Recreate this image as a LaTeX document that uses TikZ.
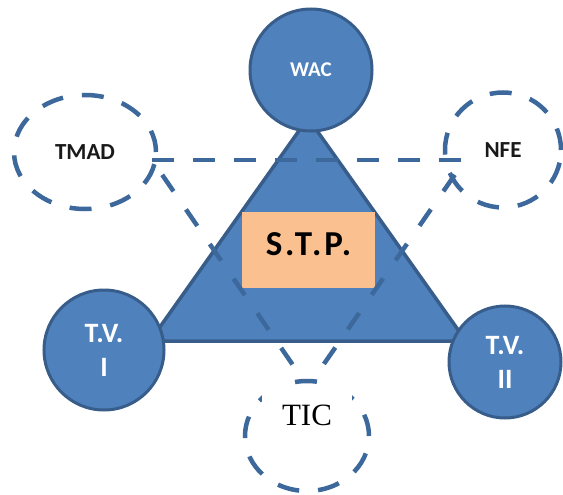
\documentclass[tikz,border=0pt]{standalone}
\usepackage{fontspec}
\usetikzlibrary{shapes.geometric,calc}
\setmainfont{Carlito}
\newfontfamily\timesf{Liberation Serif}
\newfontfamily\spacedf[LetterSpace=8]{Carlito}
\definecolor{bfill}{HTML}{4F81BD}
\definecolor{bline}{HTML}{385D8A}
\definecolor{dline}{RGB}{60,104,156}
\definecolor{ofill}{HTML}{FAC090}
\tikzset{
  bluecirc/.style={circle, fill=bfill, draw=bline, line width=3pt, inner sep=0pt, text=white, font=\bfseries\fontsize{28}{34}\selectfont, align=center},
  dashlook/.style={draw=dline, line width=4.5pt, dash pattern=on 22pt off 19pt},
  diaglook/.style={draw=dline, line width=4.5pt, dash pattern=on 20pt off 22pt, dash phase=24pt},
  dashell/.style={ellipse, dashlook, inner sep=0pt, text=black!90, font=\bfseries\fontsize{23}{26}\selectfont},
  stpbox/.style={rectangle, fill=ofill, inner sep=0pt, minimum width=133pt, minimum height=76pt},
  stptext/.style={inner sep=0pt, font=\spacedf\bfseries\fontsize{35}{40}\selectfont, text=black},
  ticbox/.style={rectangle, fill=white, inner sep=0pt, minimum width=90pt, minimum height=60pt, font=\timesf\fontsize{31}{36}\selectfont, text=black}
}
\begin{document}
\begin{tikzpicture}[x=1pt,y=-1pt]
\useasboundingbox (0,0) rectangle (563,495);
% main triangle
\coordinate (ta) at (308,118);
\coordinate (tl) at (150,341);
\coordinate (tr) at (466,341);
\draw[fill=bfill, draw=bline, line width=3.5pt, line join=miter] (ta) -- (tr) -- (tl) -- cycle;
% solid circles
\node[bluecirc, minimum size=122pt] (wac) at (311,70) {\fontsize{21}{24}\selectfont WAC};
\node[bluecirc, minimum size=120pt] (tv1) at (104,350) {T.V.\\I};
\node[bluecirc, minimum size=112pt] (tv2) at (505,362) {T.V.\\II};
% S.T.P. box
\node[stpbox] (stp) at (308.5,250) {};
\node[stptext] (stpt) at (308.5,244) {S.T.P.};
% dashed circles
\node[dashell, minimum width=142pt, minimum height=114pt] (tmad) at (85,152) {TMAD};
\node[dashell, minimum width=116pt, minimum height=115pt] (nfe) at (503,150) {NFE};
\node[dashell, minimum width=124pt, minimum height=110pt] (ticc) at (307,436) {};
% dashed inverted triangle
\coordinate (dl) at (152,160);
\coordinate (dr) at (465,160);
\coordinate (db) at (308,387);
\coordinate (dbl) at ($(dl)!0.93!(db)$);
\coordinate (dbr) at ($(dr)!0.93!(db)$);
\draw[dashlook] (dl) -- (dr);
\draw[diaglook] (dl) -- (dbl);
\draw[diaglook] (dr) -- (dbr);
% TIC label
\node[ticbox] (tic) at (307,415) {TIC};
\end{tikzpicture}
\end{document}
